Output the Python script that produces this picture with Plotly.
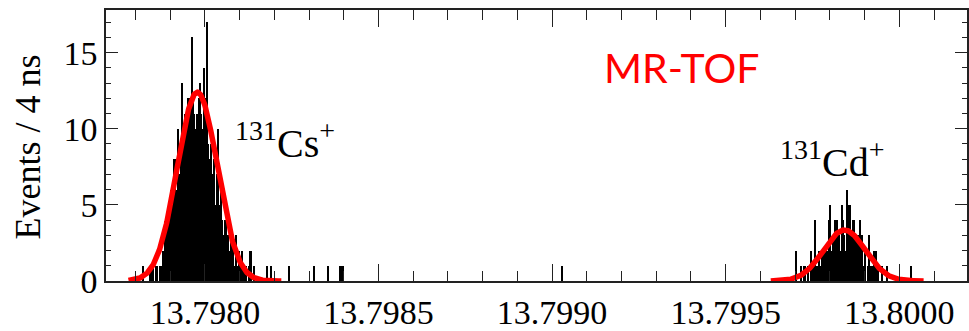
import numpy as np
import plotly.graph_objects as go

# ---------------- data ----------------
BIN_WIDTH = 4e-6          # 4 ns bins (axis in ms)
BIN_ORIGIN = 13.7980      # edge of bin index 0

# 131Cs+ peak: counts per bin starting at bin index cs_first_bin
cs_first_bin = -46
cs_counts = [0, 1, 0, 0, 0, 0, 1, 1, 1, 0,
             1, 1, 0, 1, 1, 2, 1, 3, 4, 2,
             4, 6, 5, 8, 8, 6, 10, 7, 9, 13,
             9, 11, 10, 12, 11, 12, 16, 12, 11, 10,
             11, 12, 13, 11, 10, 14, 12, 17, 9, 8,
             9, 7, 8, 5, 7, 10, 5, 6, 4, 3,
             4, 4, 3, 2, 3, 3, 3, 1, 3, 1,
             2, 1, 2, 0, 1, 1, 0, 1, 2, 2,
             0, 1, 0, 0, 0, 0, 0, 0, 0, 0,
             1, 0, 0, 1, 0, 0]

# 131Cd+ peak
cd_first_bin = 422
cd_counts = [0, 0, 0, 2, 0, 0, 0, 1, 0, 1,
             1, 0, 1, 0, 2, 1, 1, 4, 1, 0,
             2, 1, 2, 2, 1, 2, 2, 4, 5, 2,
             3, 4, 2, 4, 3, 2, 5, 4, 3, 2,
             6, 5, 5, 3, 4, 4, 3, 3, 3, 4,
             1, 3, 1, 2, 0, 1, 3, 1, 1, 2,
             2, 2, 1, 0, 0, 1, 0, 0, 0, 1,
             0]

# isolated single events between and around the peaks
stray_bins = [60, 78, 88, 97, 98, 99, 257, 508]
stray_counts = [1, 1, 1, 1, 1, 1, 1, 1]

# Gaussian fits (amplitude, mean, sigma, drawn range)
cs_fit_amp, cs_fit_mean, cs_fit_sigma = 12.4, 13.797978, 0.0000575
cs_fit_range = [13.79778, 13.79822]
cd_fit_amp, cd_fit_mean, cd_fit_sigma = 3.35, 13.799842, 0.0000600
cd_fit_range = [13.79963, 13.80007]

x_tickvals = [13.7980, 13.7985, 13.7990, 13.7995, 13.8000]
x_ticktext = ["13.7980", "13.7985", "13.7990", "13.7995", "13.8000"]
y_tickvals = [0, 5, 10, 15]
y_ticktext = ["0", "5", "10", "15"]

# ---------------- build ----------------
bins = (list(range(cs_first_bin, cs_first_bin + len(cs_counts)))
        + list(range(cd_first_bin, cd_first_bin + len(cd_counts)))
        + stray_bins)
counts = cs_counts + cd_counts + stray_counts
centers = [BIN_ORIGIN + (b + 0.5) * BIN_WIDTH for b in bins]

fig = go.Figure()
fig.add_trace(go.Bar(x=centers, y=counts, width=BIN_WIDTH * 0.85,
                     marker=dict(color="black", line=dict(width=0)),
                     showlegend=False))


def gauss_curve(amp, mean, sigma, rng):
    xs = np.linspace(rng[0], rng[1], 300)
    return xs, amp * np.exp(-0.5 * ((xs - mean) / sigma) ** 2)


for amp, mean, sig, rng in [(cs_fit_amp, cs_fit_mean, cs_fit_sigma, cs_fit_range),
                            (cd_fit_amp, cd_fit_mean, cd_fit_sigma, cd_fit_range)]:
    xs, ys = gauss_curve(amp, mean, sig, rng)
    fig.add_trace(go.Scatter(x=xs, y=ys, mode="lines",
                             line=dict(color="#ff0000", width=5.5),
                             showlegend=False, hoverinfo="skip"))

serif = "Liberation Serif"
axis_col = "#222222"

fig.update_layout(
    width=969, height=331,
    margin=dict(l=106, r=0, t=10, b=42),
    paper_bgcolor="white", plot_bgcolor="white",
    bargap=0,
    xaxis=dict(range=[13.797715, 13.800195], tickmode="array",
               tickvals=x_tickvals, ticktext=x_ticktext,
               ticks="inside", ticklen=17, tickwidth=1.3, tickcolor=axis_col,
               minor=dict(dtick=0.0001, tick0=13.7980, ticks="inside", ticklen=10,
                          tickwidth=1.3, tickcolor=axis_col),
               showline=True, linecolor=axis_col, linewidth=1.5, mirror="ticks",
               showgrid=False, zeroline=False,
               tickfont=dict(family=serif, size=34, color="black")),
    yaxis=dict(range=[0, 17.8], tickmode="array",
               tickvals=y_tickvals, ticktext=y_ticktext,
               ticks="inside", ticklen=12, tickwidth=1.3, tickcolor=axis_col,
               minor=dict(dtick=1, tick0=0, ticks="inside", ticklen=5,
                          tickwidth=1.3, tickcolor=axis_col),
               showline=True, linecolor=axis_col, linewidth=1.5, mirror="ticks",
               showgrid=False, zeroline=False,
               tickfont=dict(family=serif, size=34, color="black")),
)

fig.add_annotation(text="Events / 4 ns", textangle=-90,
                   xref="paper", yref="paper", x=(28 - 106) / 863, y=(289 - 151.5) / 278.5,
                   xanchor="center", yanchor="middle", showarrow=False,
                   font=dict(family=serif, size=36, color="black"))

fig.add_annotation(text="<sup>131</sup>Cs<sup>+</sup>", x=13.79808, y=9.2,
                   xanchor="left", yanchor="middle", showarrow=False,
                   font=dict(family=serif, size=40, color="black"))
fig.add_annotation(text="<sup>131</sup>Cd<sup>+</sup>", x=13.799652, y=8.0,
                   xanchor="left", yanchor="middle", showarrow=False,
                   font=dict(family=serif, size=40, color="black"))
fig.add_annotation(text="MR-TOF", x=13.799373, y=14.0,
                   xanchor="center", yanchor="middle", showarrow=False,
                   font=dict(family="Lato", size=41, color="#ff0000"))

fig.write_html("out.html")
